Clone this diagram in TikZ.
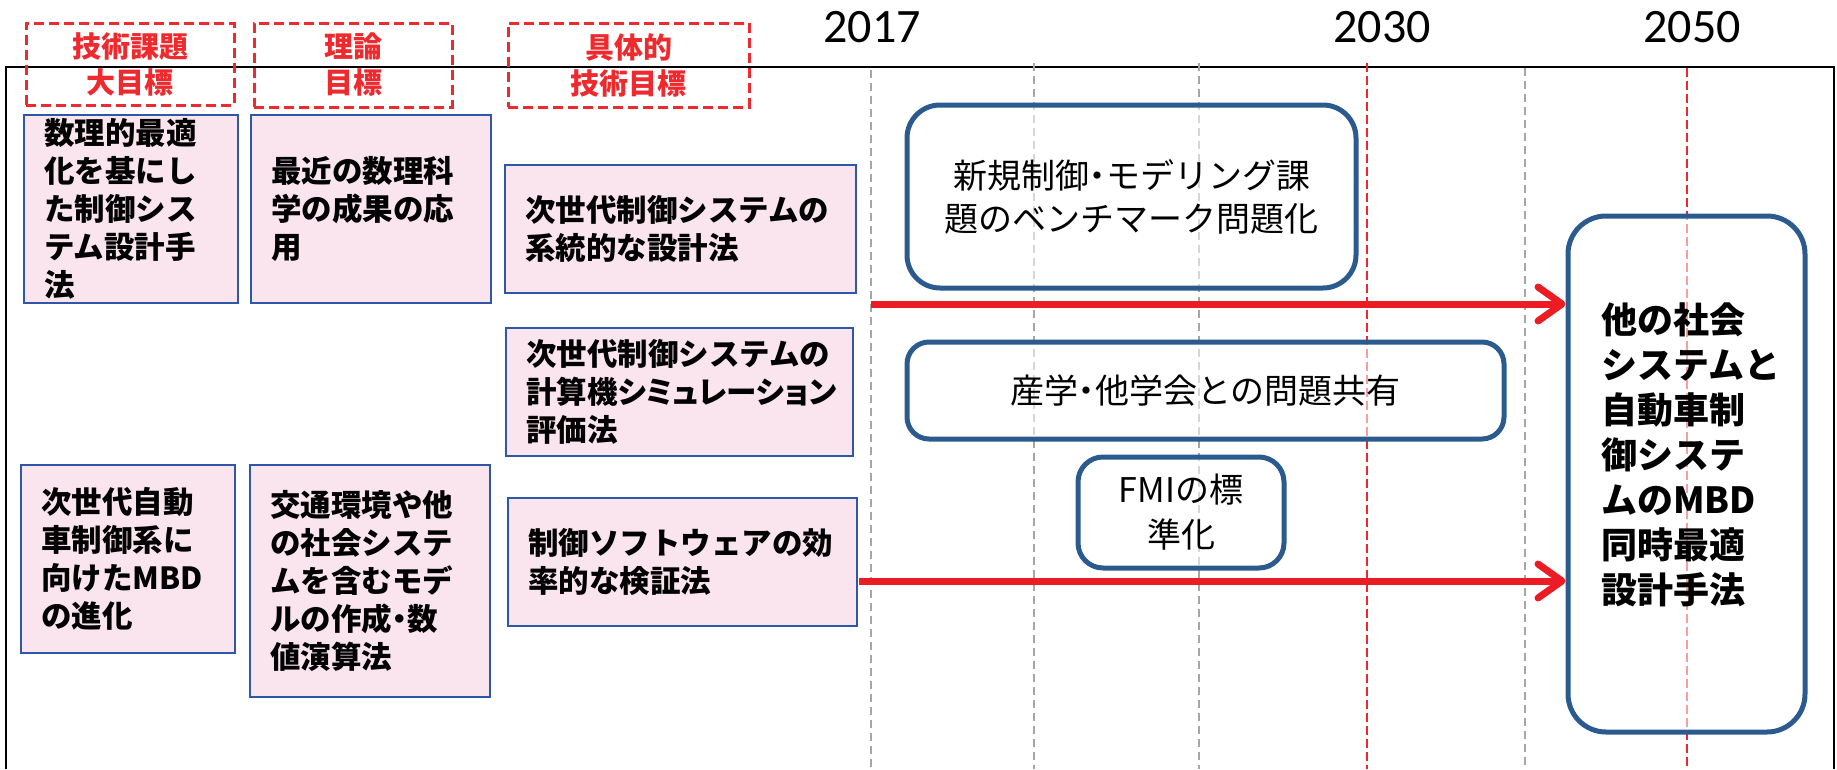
\documentclass[tikz,border=0pt]{standalone}
\usepackage{fontspec}
\newfontfamily\jp{Noto Sans CJK JP}
\newfontfamily\yr{Carlito}
\usetikzlibrary{arrows.meta}
\definecolor{hdrred}{HTML}{EE2A2F}
\definecolor{pinkfill}{HTML}{FAE4EE}
\definecolor{pinkborder}{HTML}{2F57A8}
\definecolor{rborder}{HTML}{2B5B8E}
\definecolor{arrred}{HTML}{EC1C24}
\definecolor{gridgray}{HTML}{A6A6A6}
\definecolor{gridred}{HTML}{F0262D}
\newcommand{\pdot}{{\addfontfeatures{RawFeature=+palt}・}}
\tikzset{
  hdrbox/.style={draw=hdrred, line width=3pt, dash pattern=on 10pt off 5pt, text=hdrred,
    font=\jp\bfseries\fontsize{29pt}{36pt}\selectfont, align=center, inner sep=0pt},
  pinkbox/.style={draw=pinkborder, line width=2.2pt, fill=pinkfill,
    font=\jp\bfseries\fontsize{30.5pt}{38pt}\selectfont, align=left, inner xsep=20pt, inner ysep=0pt},
  rbox/.style={draw=rborder, line width=5pt, fill=white, fill opacity=0.55, text opacity=1,
    font=\jp\fontsize{34pt}{43pt}\selectfont, align=center, inner sep=0pt},
  r4text/.style={font=\jp\bfseries\fontsize{36pt}{45pt}\selectfont, align=left, inner sep=0pt},
  grayline/.style={draw=gridgray, line width=1.8pt, dash pattern=on 8pt off 5pt},
  redline/.style={draw=gridred, line width=2pt, dash pattern=on 9pt off 4pt},
  arrowline/.style={draw=arrred, line width=7pt, -{Straight Barb[length=24pt,width=34pt,round]}},
  yearlbl/.style={font=\yr\fontsize{48pt}{56pt}\selectfont, inner sep=0pt, anchor=base},
  framestyle/.style={draw=black, line width=2.2pt}
}
\begin{document}
\begin{tikzpicture}[x=1pt,y=-1pt]
\useasboundingbox (0,0) rectangle (1837,769);
% frame
\draw[framestyle] (6,769) -- (6,67) -- (1834,67) -- (1834,769);
% timeline grid lines
\draw[grayline] (871,70) -- (871,769);
\draw[grayline] (1034,63) -- (1034,769);
\draw[grayline] (1199,63) -- (1199,769);
\draw[redline] (1367,63) -- (1367,769);
\draw[grayline] (1525,68) -- (1525,769);
\draw[redline] (1687,68) -- (1687,769);
% years
\node[yearlbl] (y2017) at (872,42) {2017};
\node[yearlbl] (y2030) at (1382,42) {2030};
\node[yearlbl] (y2050) at (1692,42) {2050};
% header boxes
\node[hdrbox, minimum width=208pt, minimum height=82pt] (hA) at (130,64) {技術課題\\大目標};
\node[hdrbox, minimum width=198pt, minimum height=84pt] (hB) at (353,65) {理論\\目標};
\node[hdrbox, minimum width=241pt, minimum height=84pt] (hC) at (628.5,65) {具体的\\技術目標};
% pink boxes
\node[pinkbox, minimum width=214pt, minimum height=188pt, text width=174pt] (L1) at (131,209)
  {数理的最適\\化を基にし\\た制御シス\\テム設計手\\法};
\node[pinkbox, minimum width=240pt, minimum height=188pt, text width=200pt] (L2) at (371,209)
  {最近の数理科\\学の成果の応\\用};
\node[pinkbox, minimum width=351pt, minimum height=128pt, text width=311pt] (M1) at (680.5,229)
  {次世代制御システムの\\系統的な設計法};
\node[pinkbox, minimum width=347pt, minimum height=128pt, text width=307pt] (M2) at (679.5,392)
  {次世代制御システムの\\{\addfontfeatures{RawFeature=+palt}計算機シミュレーション}\\評価法};
\node[pinkbox, minimum width=214pt, minimum height=188pt, text width=174pt] (L3) at (128,559)
  {次世代自動\\車制御系に\\向けたMBD\\の進化};
\node[pinkbox, minimum width=240pt, minimum height=232pt, text width=200pt] (L4) at (370,581)
  {交通環境や他\\の社会システ\\ムを含むモデ\\ルの作成\pdot 数\\値演算法};
\node[pinkbox, minimum width=349pt, minimum height=128pt, text width=309pt] (M3) at (682.5,562)
  {制御ソフトウェアの効\\率的な検証法};
% arrows
\coordinate (a1s) at (871,304);
\coordinate (a2s) at (859,581);
% rounded boxes
\node[rbox, rounded corners=33pt, minimum width=449pt, minimum height=183pt] (R1) at (1131.5,196.5)
  {新規制御\pdot モデリング課\\題のベンチマーク問題化};
\node[rbox, rounded corners=22pt, minimum width=597pt, minimum height=97pt] (R2) at (1205.5,390.5)
  {産学\pdot 他学会との問題共有};
\node[rbox, rounded corners=25pt, minimum width=206pt, minimum height=111pt, font=\jp\fontsize{34pt}{45pt}\selectfont] (R3) at (1181,512.5)
  {FMIの標\\準化};
\node[rbox, rounded corners=38pt, minimum width=237pt, minimum height=516pt] (R4) at (1686.5,474) {};
\node[r4text, anchor=north west] (R4t) at (1601,303)
  {他の社会\\システムと\\自動車制\\御システ\\ムのMBD\\同時最適\\設計手法};
\draw[arrowline] (a1s) -- (a1s -| R4.west);
\draw[arrowline] (a2s) -- (a2s -| R4.west);
\end{tikzpicture}
\end{document}
